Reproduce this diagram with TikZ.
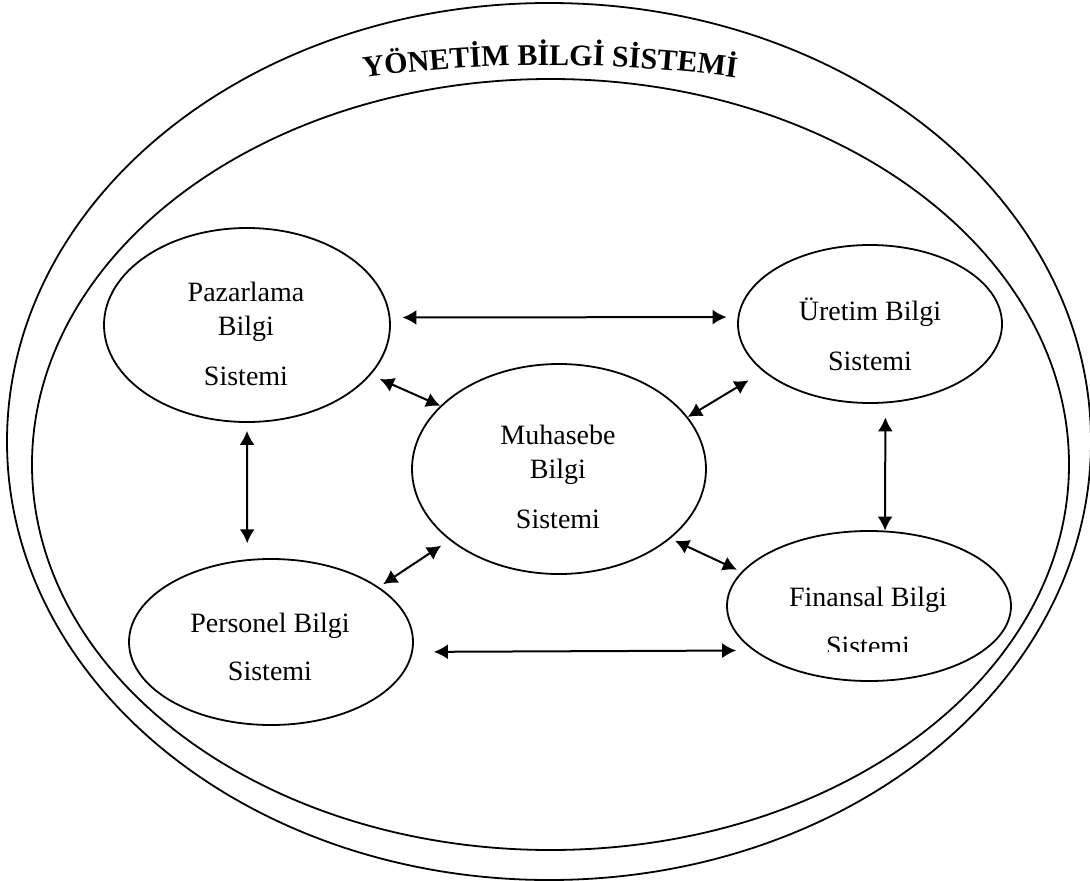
\documentclass[tikz,border=0pt]{standalone}
\usepackage{fontspec}
\setmainfont{Liberation Serif}
\usetikzlibrary{shapes.geometric,decorations.text,arrows.meta}
\begin{document}
\begin{tikzpicture}[x=1pt,y=-1pt,>={Latex[length=14pt,width=15pt]},
    ring/.style={draw,ellipse,line width=1.8pt,inner sep=0pt},
    sys/.style={draw,ellipse,line width=1.8pt,inner sep=0pt},
    lbl/.style={align=center,inner sep=0pt,anchor=base,font=\fontsize{28}{34}\selectfont},
    link/.style={line width=2pt,<->}]
\useasboundingbox (0,0) rectangle (1090,881);
% outer frame and title
\node[ring,minimum width=1084pt,minimum height=877pt] (outer) at (549,441.5) {};
\node[ring,minimum width=1037pt,minimum height=771pt] (inner) at (550.5,464.5) {};
\path[decorate,decoration={text along path,text align=center,
    text={|\fontsize{30}{36}\selectfont\bfseries|YÖNETİM BİLGİ SİSTEMİ}}]
    (340,81) .. controls (480,60) and (620,60) .. (760,81);
% subsystems
\node[sys,minimum width=286pt,minimum height=194pt] (paz) at (247,325) {};
\node[sys,minimum width=264pt,minimum height=158pt] (ure) at (870,324) {};
\node[sys,minimum width=294pt,minimum height=210pt] (muh) at (559,469) {};
\node[sys,minimum width=284pt,minimum height=166pt] (per) at (271,642) {};
\node[sys,minimum width=284pt,minimum height=150pt] (fin) at (869,606) {};
\node[lbl] (pazT) at (246,385) {Pazarlama\\Bilgi\\[16pt]Sistemi};
\node[lbl] (ureT) at (870,370) {Üretim Bilgi\\[16pt]Sistemi};
\node[lbl] (muhT) at (558,528) {Muhasebe\\Bilgi\\[16pt]Sistemi};
\node[lbl] (perT) at (270,680) {Personel Bilgi\\[14pt]Sistemi};
\begin{scope}
\clip (700,560) rectangle (1040,651);
\node[lbl] (finT) at (868,655) {Finansal Bilgi\\[15pt]Sistemi};
\end{scope}
% links
\draw[link,shorten <=12pt,shorten >=11pt] (paz.3) -- (ure.177);
\draw[link,shorten <=10pt] (paz.-22) -- (muh.152.5);
\draw[link,shorten <=17pt] (ure.-156) -- (muh.22.5);
\draw[link,shorten <=8pt,shorten >=16pt] (paz.-90) -- (per.106);
\draw[link,shorten <=14pt] (ure.-79) -- (fin.78);
\draw[link,shorten <=10pt,shorten >=5pt] (muh.-147) -- (per.27);
\draw[link,shorten <=5pt,shorten >=5pt] (muh.-32.6) -- (fin.165);
\draw[link,shorten <=21pt,shorten >=17pt] (per.-4) -- (fin.-159);
\end{tikzpicture}
\end{document}
